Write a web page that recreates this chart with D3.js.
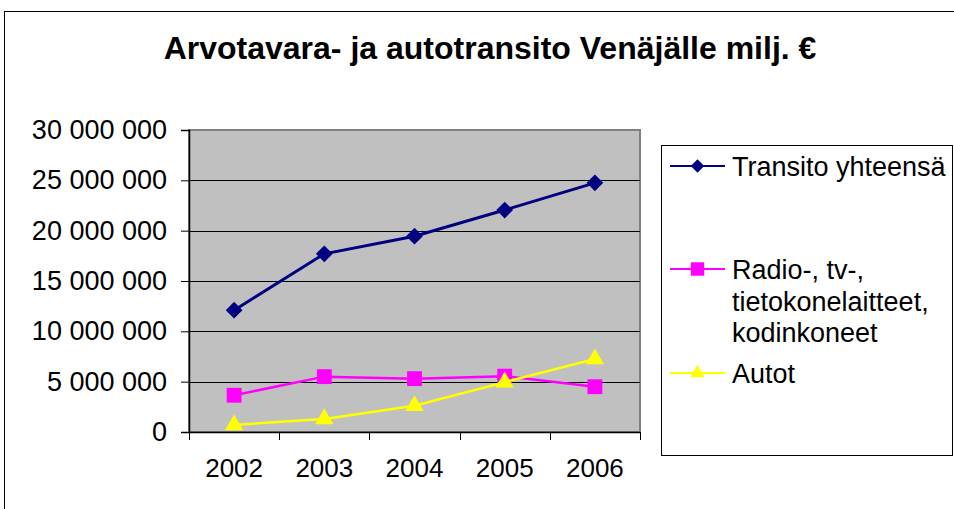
<!DOCTYPE html>
<html>
<head>
<meta charset="utf-8">
<script src="https://cdn.jsdelivr.net/npm/d3@7"></script>
<style>
  body { margin: 0; background: #fff; overflow: hidden; }
  svg { display: block; font-family: "Liberation Sans", Arial, sans-serif; }
</style>
</head>
<body>
<div id="chart"></div>
<script>
// values
var years = ["2002", "2003", "2004", "2005", "2006"];
var transito = [12100000, 17700000, 19450000, 22050000, 24750000];
var radio = [3650000, 5500000, 5300000, 5550000, 4500000];
var autot = [700000, 1300000, 2600000, 4950000, 7250000];
var seriesNames = ["Transito yhteensä", "Radio-, tv-, tietokonelaitteet, kodinkoneet", "Autot"];
var yTicks = [0, 5000000, 10000000, 15000000, 20000000, 25000000, 30000000];

var W = 954, H = 509;
var plot = { left: 189, top: 130, right: 640, bottom: 432 };

var svg = d3.select("#chart").append("svg")
    .attr("width", W)
    .attr("height", H);

// chart frame
svg.append("rect")
    .attr("x", 4.5).attr("y", 11.5)
    .attr("width", W + 10).attr("height", H + 10)
    .attr("fill", "#fff")
    .attr("stroke", "#000")
    .attr("stroke-width", 1);

svg.append("text")
    .attr("x", 490).attr("y", 59)
    .attr("text-anchor", "middle")
    .style("font-size", "32px")
    .style("font-weight", "bold")
    .text("Arvotavara- ja autotransito Venäjälle milj. €");

var x = d3.scaleBand()
    .domain(years)
    .range([plot.left, plot.right]);

var y = d3.scaleLinear()
    .domain([0, 30000000])
    .range([plot.bottom, plot.top]);

// plot area
svg.append("rect")
    .attr("x", plot.left).attr("y", plot.top)
    .attr("width", plot.right - plot.left)
    .attr("height", plot.bottom - plot.top)
    .attr("fill", "#c0c0c0")
    .attr("stroke", "#808080")
    .attr("stroke-width", 2);

svg.append("g")
    .selectAll("line")
    .data(yTicks.slice(1, -1))
    .enter()
    .append("line")
    .attr("x1", plot.left).attr("x2", plot.right)
    .attr("y1", d => Math.round(y(d)) + 0.5)
    .attr("y2", d => Math.round(y(d)) + 0.5)
    .attr("stroke", "#000")
    .attr("stroke-width", 1);

var fmt = d => d3.format(",")(d).replace(/,/g, " ");

var yAxis = svg.append("g")
    .attr("transform", "translate(" + plot.left + ",0)")
    .call(d3.axisLeft(y).tickValues(yTicks).tickFormat(fmt).tickSize(8).tickPadding(14));

var xAxis = svg.append("g")
    .attr("transform", "translate(0," + plot.bottom + ")")
    .call(d3.axisBottom(x).tickSize(0).tickPadding(27));

// ticks at category borders
xAxis.selectAll(".border")
    .data(years.concat(["end"]))
    .enter()
    .append("line")
    .attr("x1", (d, i) => Math.round(plot.left + i * x.step()) + 0.5)
    .attr("x2", (d, i) => Math.round(plot.left + i * x.step()) + 0.5)
    .attr("y1", 0).attr("y2", 8)
    .attr("stroke", "#000");

[yAxis, xAxis].forEach(function(a) {
    a.select(".domain").attr("stroke", "#000").attr("stroke-width", 1.5);
    a.selectAll(".tick line").attr("stroke", "#000");
    a.selectAll("text")
        .attr("fill", "#000")
        .style("font-family", "'Liberation Sans', Arial, sans-serif");
});
yAxis.selectAll("text").style("font-size", "27px");
xAxis.selectAll("text").style("font-size", "26px");

var diamond = {
    draw: function(ctx, size) {
        var r = Math.sqrt(size / 2);
        ctx.moveTo(0, -r); ctx.lineTo(r, 0); ctx.lineTo(0, r); ctx.lineTo(-r, 0); ctx.closePath();
    }
};

var series = [
    { name: seriesNames[0], values: transito, color: "#000080", shape: diamond, size: 140, lsize: 90, width: 3 },
    { name: seriesNames[1], values: radio, color: "#ff00ff", shape: d3.symbolSquare, size: 220, lsize: 180, width: 2.5 },
    { name: seriesNames[2], values: autot, color: "#ffff00", shape: d3.symbolTriangle, size: 145, lsize: 90, width: 2.5 }
];

var line = d3.line()
    .x((d, i) => x(years[i]) + x.bandwidth() / 2)
    .y(d => y(d));

series.forEach(function(s) {
    svg.append("path")
        .datum(s.values)
        .attr("d", line)
        .attr("fill", "none")
        .attr("stroke", s.color)
        .attr("stroke-width", s.width);
    svg.append("g")
        .selectAll("path")
        .data(s.values)
        .enter()
        .append("path")
        .attr("transform", (d, i) => "translate(" + (x(years[i]) + x.bandwidth() / 2) + "," + y(d) + ")")
        .attr("d", d3.symbol().type(s.shape).size(s.size))
        .attr("fill", s.color);
});

// legend
var legend = svg.append("g");
legend.append("rect")
    .attr("x", 661.5).attr("y", 145.5)
    .attr("width", 291).attr("height", 310)
    .attr("fill", "#fff")
    .attr("stroke", "#000");

var legendY = [166, 269, 373];
var legendLines = [["Transito yhteensä"], ["Radio-, tv-,", "tietokonelaitteet,", "kodinkoneet"], ["Autot"]];

series.forEach(function(s, i) {
    var g = legend.append("g").attr("transform", "translate(0," + legendY[i] + ")");
    g.append("line")
        .attr("x1", 670).attr("x2", 725)
        .attr("stroke", s.color)
        .attr("stroke-width", 2);
    g.append("path")
        .attr("transform", "translate(697.5,0)")
        .attr("d", d3.symbol().type(s.shape).size(s.lsize))
        .attr("fill", s.color);
    var t = g.append("text")
        .attr("x", 732).attr("y", 10)
        .style("font-size", "27px");
    legendLines[i].forEach(function(l, j) {
        t.append("tspan").attr("x", 732).attr("dy", j === 0 ? 0 : 31.5).text(l);
    });
});
</script>
</body>
</html>
